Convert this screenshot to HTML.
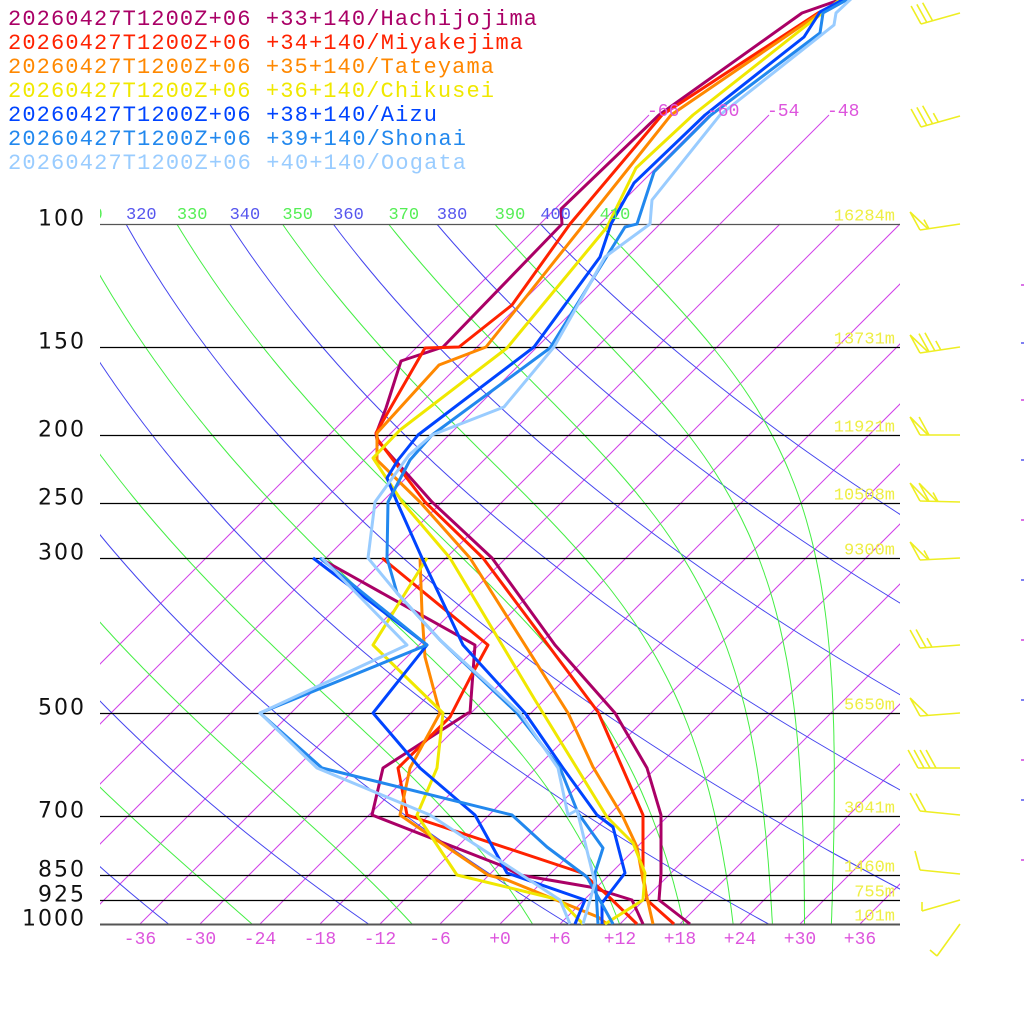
<!DOCTYPE html>
<html><head><meta charset="utf-8"><style>
html,body{margin:0;padding:0;background:#fff;width:1024px;height:1024px;overflow:hidden}
svg{display:block}
</style></head><body>
<svg id="s" width="1024" height="1024" viewBox="0 0 1024 1024" xmlns="http://www.w3.org/2000/svg">
<defs>
<clipPath id="cIso"><rect x="100" y="0" width="800" height="924"/></clipPath>
<clipPath id="cAd"><rect x="100" y="224" width="800" height="700"/></clipPath>
<clipPath id="cLab"><rect x="100" y="190" width="800" height="40"/></clipPath>
</defs>
<g id="grid"></g>
<g id="series" fill="none" stroke-width="3" stroke-linejoin="round"></g>
<g id="txt"></g>
</svg>
<script>
var NS="http://www.w3.org/2000/svg";
function el(tag,attrs,parent,text){var e=document.createElementNS(NS,tag);for(var k in attrs)e.setAttribute(k,attrs[k]);if(text!==undefined)e.textContent=text;(parent||document.getElementById('s')).appendChild(e);return e;}
var grid=document.getElementById('grid'),ser=document.getElementById('series'),txt=document.getElementById('txt');
function yOfP(p){return 224+Math.log(p/100)/Math.LN10*700;}
function pOfY(y){return 100*Math.pow(10,(y-224)/700);}
function xOf(Tc,y){return 500+10*Tc+(924-y);}
var gi=el('g',{'clip-path':'url(#cIso)',stroke:'#d040e8','stroke-width':1,fill:'none'},grid);
for(var T=-66;T<=60;T+=6){
  var ytop=(T<=-48)?115:224;
  el('line',{x1:xOf(T,924),y1:924,x2:xOf(T,ytop),y2:ytop},gi);
}
var ga=el('g',{'clip-path':'url(#cAd)',fill:'none','stroke-width':1},grid);
var gl=el('g',{'clip-path':'url(#cLab)','font-family':'Liberation Mono, monospace','font-size':'17'},txt);
for(var th=200;th<=400;th+=20){
  var pts=[];for(var y=924;y>=224;y-=4){var p=pOfY(y);var Tc=th*Math.pow(p/1000,0.2857)-273.15;pts.push(xOf(Tc,y).toFixed(1)+','+y);}
  el('polyline',{points:pts.join(' '),stroke:'#4444ee'},ga);
  var Tt=th*Math.pow(0.1,0.2857)-273.15;el('text',{x:xOf(Tt,224),y:219,fill:'#5555ee'},gl,String(th));
}
function es(Tc){return 6.112*Math.exp(17.67*Tc/(Tc+243.5));}
function thetaE(Tc,p){var T=Tc+273.15;var e=es(Tc);var r=622*e/(p-e);return T*Math.pow(1000/p,0.2854*(1-0.00028*r))*Math.exp((3.376/T-0.00254)*r*(1+0.00081*r));}
for(var te=230;te<=410;te+=20){
  var lo=-80,hi=50;for(var i=0;i<60;i++){var m=(lo+hi)/2;if(thetaE(m,1000)<te)lo=m;else hi=m;}
  var T=(lo+hi)/2+273.15,p=1000,pts=[];
  var Rd=287.04,cp=1005.7,Lv=2.501e6,eps=0.622;
  for(var y=924;y>=224;y-=1){
    var pn=pOfY(y-1);
    var n=4,dp=(pn-p)/n;
    for(var k=0;k<n;k++){var e=es(T-273.15);var rs=eps*e/(p-e);var d=(Rd*T+Lv*rs)/(p*(cp+Lv*Lv*rs*eps/(Rd*T*T)));T+=d*dp;p+=dp;}
    if((924-y)%4==0) pts.push(xOf(T-273.15,y).toFixed(1)+','+y);
  }
  pts.push(xOf(T-273.15,224).toFixed(1)+',224');
  el('polyline',{points:pts.join(' '),stroke:'#44ee44'},ga);
  el('text',{x:xOf(T-273.15,224),y:219,fill:'#55ee55'},gl,String(te));
}
var lev=[[100,'100','16284m'],[150,'150','13731m'],[200,'200','11921m'],[250,'250','10508m'],[300,'300','9300m'],[500,'500','5650m'],[700,'700','3041m'],[850,'850','1460m'],[925,'925','755m'],[1000,'1000','101m']];
lev.forEach(function(l){var y=Math.round(yOfP(l[0]))+0.5;
  el('line',{x1:100,y1:y,x2:900,y2:y,stroke:(l[0]==1000||l[0]==100)?'#555':'#000','stroke-width':(l[0]==1000)?2:1.3},grid);
  el('text',{x:86,y:y+1,'text-anchor':'end','font-family':'DejaVu Sans, Liberation Sans, sans-serif','font-size':'22',fill:'#111','letter-spacing':'2'},txt,l[1]);
  el('text',{x:895,y:y-4,'text-anchor':'end','font-family':'Liberation Mono, monospace','font-size':'17',fill:'#eeee44'},txt,l[2]);
});
for(var T=-36;T<=36;T+=6){var s=(T>0?'+':(T<0?'-':'+'))+Math.abs(T);
  el('text',{x:500+10*T,y:944,'text-anchor':'middle','font-family':'Liberation Mono, monospace','font-size':'18',fill:'#dd55dd'},txt,s);}
[-66,-60,-54,-48].forEach(function(T){el('text',{x:xOf(T,115)-2,y:116,'font-family':'Liberation Mono, monospace','font-size':'18',fill:'#dd55dd'},txt,String(T));});
var S=[
 {c:'#aa0066',t:[[690,924],[659,900],[661,874],[661,815],[647,768],[615,713],[555,645],[492,558],[432,502],[377,440],[376,434],[386,408],[401,361],[443,347],[562,224],[561,209],[659,115],[802,13],[845,-2]],
  d:[[643,924],[632,900],[590,887],[520,875],[500,865],[372,815],[383,768],[468,713],[470,713],[475,645],[323,560]]},
 {c:'#ff2200',t:[[674,924],[647,900],[643,873],[643,815],[598,712],[483,558],[425,502],[378,440],[376,433],[425,348],[459,347],[512,305],[570,224],[662,115],[818,13],[848,-2]],
  d:[[637,924],[605,893],[582,873],[407,815],[398,768],[450,717],[470,678],[488,645],[382,558]]},
 {c:'#ff8800',t:[[653,924],[643,880],[637,847],[623,817],[593,767],[568,713],[470,558],[420,502],[377,460],[377,433],[439,365],[486,347],[518,307],[671,115],[820,13],[850,-2]],
  d:[[607,924],[598,917],[507,880],[488,875],[400,815],[410,768],[440,713],[425,657],[422,613],[420,558]]},
 {c:'#f0e800',t:[[605,924],[643,900],[645,873],[633,843],[607,817],[535,700],[450,558],[403,503],[373,458],[400,430],[507,348],[607,227],[636,168],[693,115],[807,25],[842,-2]],
  d:[[583,924],[560,900],[457,875],[417,815],[437,768],[443,713],[373,645],[427,558]]},
 {c:'#0044ff',t:[[602,924],[602,903],[625,873],[613,827],[597,815],[563,768],[525,713],[463,645],[422,558],[397,502],[387,478],[398,460],[418,435],[534,347],[600,257],[611,224],[634,183],[705,115],[804,37],[820,12],[846,-2]],
  d:[[575,924],[585,900],[507,873],[475,815],[420,768],[373,713],[427,645],[313,558]]},
 {c:'#2288ee',t:[[598,924],[595,873],[603,848],[578,813],[560,768],[517,713],[440,640],[397,593],[387,558],[388,502],[410,460],[432,435],[550,348],[625,227],[637,224],[654,172],[711,115],[820,33],[823,13],[850,-2]],
  d:[[613,924],[587,877],[547,847],[512,815],[322,768],[260,713],[427,645],[320,558]]},
 {c:'#99ccff',t:[[583,924],[595,883],[577,810],[568,815],[558,768],[520,713],[440,640],[397,593],[368,558],[375,502],[409,455],[432,435],[504,407],[554,347],[605,257],[650,224],[652,200],[720,115],[834,25],[836,13],[852,-2]],
  d:[[570,924],[560,900],[430,815],[317,768],[260,713],[407,645],[322,558]]}
];
S.forEach(function(s){
  el('polyline',{points:s.d.map(function(p){return p.join(',')}).join(' '),stroke:s.c},ser);
  el('polyline',{points:s.t.map(function(p){return p.join(',')}).join(' '),stroke:s.c},ser);
});
var names=['+33+140/Hachijojima','+34+140/Miyakejima','+35+140/Tateyama','+36+140/Chikusei','+38+140/Aizu','+39+140/Shonai','+40+140/Oogata'];
names.forEach(function(n,i){var str='20260427T1200Z+06 '+n;
  el('text',{x:8,y:25+24*i,'font-family':'Liberation Mono, monospace','font-size':'22',fill:S[i].c,textLength:(str.length*14.3).toFixed(0),lengthAdjust:'spacing'},txt,str);});
var gb=el('g',{stroke:'#eeee22','stroke-width':1.6,fill:'none'},txt);
function barb(y0,tipx,tipy,items){
  el('line',{x1:960,y1:y0,x2:tipx,y2:tipy},gb);
  var dx=(960-tipx),dy=(y0-tipy),L=Math.sqrt(dx*dx+dy*dy);dx/=L;dy/=L;
  var pos=0;
  items.forEach(function(it){
    var bx=tipx+dx*pos,by=tipy+dy*pos;
    var vx=-0.55,vy=-1;
    if(it=='F'){el('line',{x1:bx,y1:by,x2:bx+vx*18,y2:by+vy*18},gb);pos+=6;}
    else if(it=='H'){el('line',{x1:bx,y1:by,x2:bx+vx*9,y2:by+vy*9},gb);pos+=6;}
    else if(it=='P'){el('polyline',{points:bx+','+by+' '+(bx+vx*18)+','+(by+vy*18)+' '+(bx+dx*8)+','+(by+dy*8)},gb);pos+=9;}
  });
}
barb(13,921,24,['F','F','F']);
barb(116,921,127,['F','F','F','H']);
barb(224,920,230,['P','H']);
barb(347,920,353,['P','F','F','H']);
barb(435,920,435,['P','F']);
barb(502,920,501,['P','P','H']);
barb(558,920,560,['P','H']);
barb(645,920,648,['F','F','H']);
barb(713,920,716,['P']);
barb(768,918,768,['F','F','F','F']);
barb(815,920,811,['F','F']);
el('line',{x1:960,y1:874,x2:920,y2:870},gb);el('line',{x1:920,y1:870,x2:915,y2:851},gb);
el('line',{x1:960,y1:900,x2:922,y2:911},gb);el('line',{x1:922,y1:911,x2:922,y2:902},gb);
el('line',{x1:960,y1:924,x2:937,y2:956},gb);el('line',{x1:937,y1:956,x2:930,y2:950},gb);
[285,343,400,460,520,580,640,700,760,800,860].forEach(function(y,i){el('line',{x1:1021,y1:y,x2:1024,y2:y,stroke:i%2?'#5555ee':'#cc44dd','stroke-width':1.5},txt);});
</script>
</body></html>
